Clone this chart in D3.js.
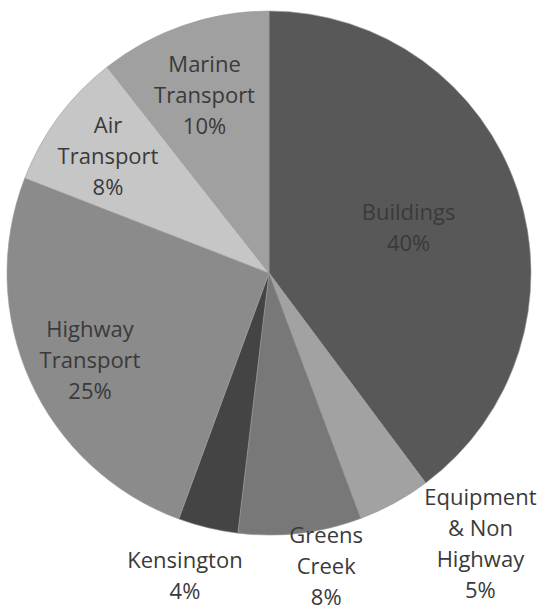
<!DOCTYPE html>
<html>
<head>
<meta charset="utf-8">
<script src="https://cdn.jsdelivr.net/npm/d3@7"></script>
<style>
  body { margin: 0; background: #fff; }
  svg { display: block; }
  text { font-family: "Open Sans", sans-serif; font-size: 22px; fill: #3a3a3a; }
</style>
</head>
<body>
<div id="chart"></div>
<script>
// slices in clockwise order from 12 o'clock
var categories = ['Buildings', 'Equipment & Non Highway', 'Greens Creek', 'Kensington', 'Highway Transport', 'Air Transport', 'Marine Transport'];
// slice sizes
var shares = [39.8, 4.5, 7.6, 3.7, 25.3, 8.5, 10.6];
// percentages as printed on the labels
var pctLabels = ['40%', '5%', '8%', '4%', '25%', '8%', '10%'];
var labelLines = [
  ['Buildings'],
  ['Equipment', '& Non', 'Highway'],
  ['Greens', 'Creek'],
  ['Kensington'],
  ['Highway', 'Transport'],
  ['Air', 'Transport'],
  ['Marine', 'Transport']
];

var width = 542, height = 607;
var cx = 269, cy = 273, radius = 262;
var lineHeight = 31;

var fills = ['#585858', '#a2a2a2', '#787878', '#444444', '#8b8b8b', '#c6c6c6', '#a0a0a0'];
// label distance (fraction of radius) and angle shift in degrees
var labelPos = [
  {k: 0.56, da: 0.4},
  {k: 1.31, da: -9.4},
  {k: 1.14, da: -4.2},
  {k: 1.2, da: 2},
  {k: 0.76, da: -1.7},
  {k: 0.76, da: -0.5},
  {k: 0.72, da: -0.9}
];

var svg = d3.select('#chart').append('svg').attr('width', width).attr('height', height);
var g = svg.append('g').attr('transform', 'translate(' + cx + ',' + cy + ')');

var pie = d3.pie().sort(null).value(function(d) { return d; });
var arcs = pie(shares);
var arc = d3.arc().innerRadius(0).outerRadius(radius);

g.selectAll('path').data(arcs).enter().append('path')
  .attr('d', arc)
  .attr('fill', function(d, i) { return fills[i]; })
  .attr('stroke', '#9a9a9a')
  .attr('stroke-width', 0.6);

var labels = g.selectAll('text.lbl').data(arcs).enter().append('text')
  .attr('class', 'lbl')
  .attr('text-anchor', 'middle')
  .attr('transform', function(d, i) {
    var a = (d.startAngle + d.endAngle) / 2 + labelPos[i].da * Math.PI / 180;
    var r = radius * labelPos[i].k;
    return 'translate(' + (r * Math.sin(a)) + ',' + (-r * Math.cos(a)) + ')';
  });

labels.each(function(d, i) {
  var lines = labelLines[i].concat([pctLabels[i]]);
  var t = d3.select(this);
  var y0 = -(lines.length - 1) * lineHeight / 2;
  lines.forEach(function(s, j) {
    t.append('tspan').attr('x', 0).attr('y', y0 + j * lineHeight).attr('dy', '0.35em').text(s);
  });
});
</script>
</body>
</html>
